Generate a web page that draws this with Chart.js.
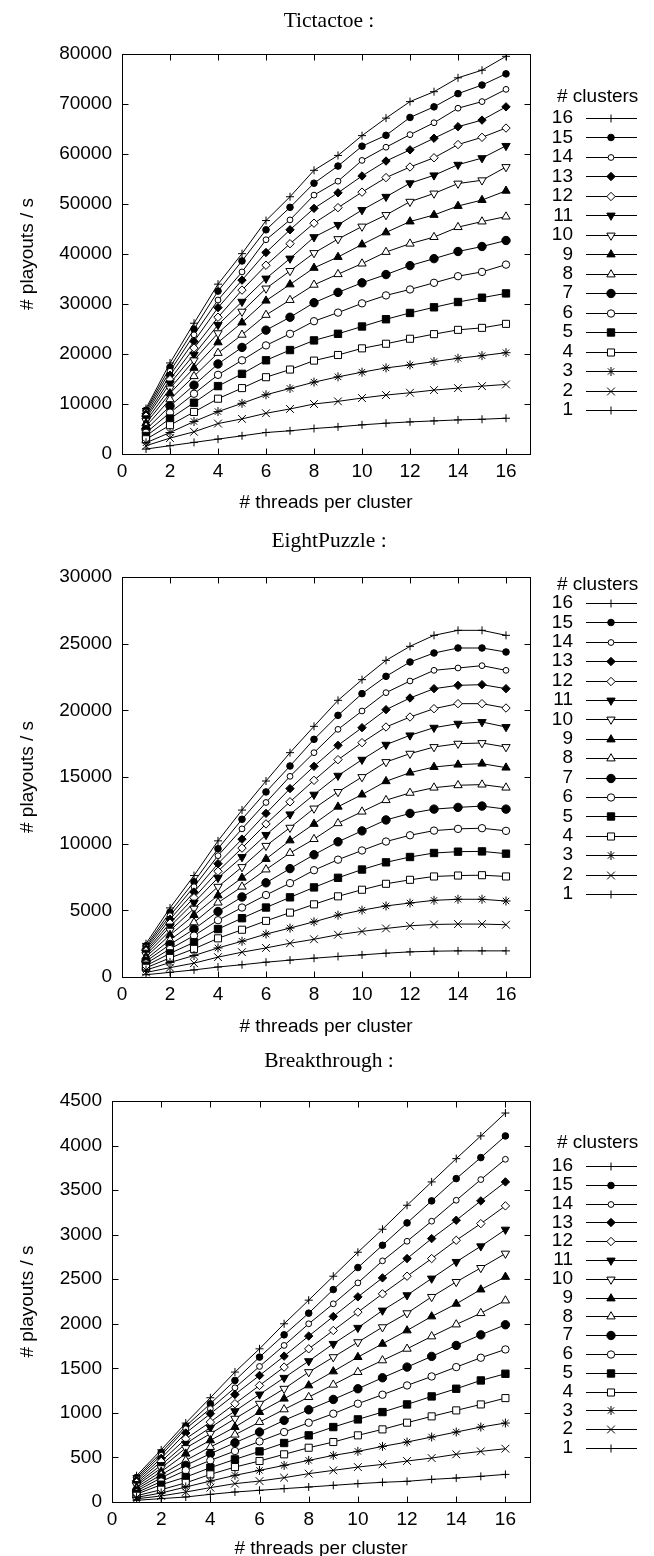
<!DOCTYPE html>
<html>
<head>
<meta charset="utf-8">
<script src="https://cdn.jsdelivr.net/npm/chart.js@4.4.1/dist/chart.umd.min.js"></script>
<style>
  html, body { margin: 0; padding: 0; background: #fff; }
  body { width: 654px; height: 1556px; position: relative; overflow: hidden; }
  canvas { position: absolute; left: 0; }
</style>
</head>
<body>
<canvas id="c1" width="654" height="520" style="top:0"></canvas>
<canvas id="c2" width="654" height="520" style="top:520px"></canvas>
<canvas id="c3" width="654" height="516" style="top:1040px"></canvas>
<script>
// x values (threads per cluster) and series labels (# clusters)
const threads  = [1, 2, 3, 4, 5, 6, 7, 8, 9, 10, 11, 12, 13, 14, 15, 16];
const clusters = ['1', '2', '3', '4', '5', '6', '7', '8', '9', '10', '11', '12', '13', '14', '15', '16'];
const xTicks   = [0, 2, 4, 6, 8, 10, 12, 14, 16];

const tictactoeYTicks    = [0, 10000, 20000, 30000, 40000, 50000, 60000, 70000, 80000];
const eightPuzzleYTicks  = [0, 5000, 10000, 15000, 20000, 25000, 30000];
const breakthroughYTicks = [0, 500, 1000, 1500, 2000, 2500, 3000, 3500, 4000, 4500];

// playouts / s, one row per cluster count (1..16), one value per thread count (1..16)
const tictactoe = [
  [990, 1660, 2320, 2980, 3640, 4300, 4640, 5100, 5430, 5830, 6160, 6420, 6620, 6820, 6950, 7150],
  [1650, 3180, 4440, 6090, 7020, 8150, 9010, 10000, 10530, 11190, 11790, 12250, 12780, 13180, 13580, 13910],
  [2240, 4300, 6490, 8480, 10130, 11850, 13110, 14370, 15430, 16360, 17220, 17810, 18480, 19140, 19670, 20260],
  [2950, 5760, 8410, 11060, 13180, 15360, 16890, 18680, 19800, 21130, 22050, 23050, 23970, 24830, 25230, 26030],
  [3600, 7090, 10260, 13580, 16030, 18740, 20790, 22720, 24040, 25500, 26950, 28210, 29340, 30400, 31260, 32120],
  [4250, 8280, 12050, 15830, 18740, 21720, 24040, 26560, 28280, 30130, 31720, 32910, 34240, 35560, 36420, 37880],
  [4900, 9600, 13770, 18010, 21320, 24770, 27350, 30260, 32320, 34240, 35890, 37680, 39070, 40500, 41500, 42700],
  [5550, 10930, 15560, 20200, 23840, 27810, 30790, 33840, 35960, 38080, 40400, 42060, 43380, 45370, 46490, 47480],
  [6150, 12120, 17220, 22320, 26290, 30660, 33910, 37220, 39400, 41900, 44310, 46490, 47810, 49600, 50790, 52640],
  [6650, 13110, 18740, 24170, 28480, 33110, 36620, 40200, 42990, 45500, 47810, 50460, 52110, 54090, 54750, 57400],
  [7150, 14110, 19870, 25830, 30460, 35100, 39100, 43380, 45830, 48800, 51450, 54160, 55740, 57860, 59180, 61630],
  [7550, 14900, 21190, 27350, 32780, 37750, 42060, 46160, 49270, 52370, 55280, 57400, 59250, 61890, 63340, 65190],
  [8000, 15760, 22520, 29270, 34770, 40300, 44840, 49130, 52240, 55610, 58590, 60830, 63150, 65460, 66780, 69430],
  [8400, 16560, 23840, 30790, 36420, 42850, 46820, 51780, 54560, 58720, 61360, 63870, 66250, 69160, 70480, 72930],
  [8750, 17350, 24970, 32580, 38610, 44840, 49330, 54160, 57590, 61560, 63740, 67310, 69430, 72070, 73790, 76030],
  [9100, 18210, 26160, 33970, 40070, 46690, 51450, 56740, 59710, 63675, 67180, 70480, 72460, 75240, 76760, 79540]
];

const eightPuzzle = [
  [170, 350, 530, 750, 920, 1110, 1265, 1410, 1540, 1660, 1785, 1885, 1935, 1960, 1960, 1960],
  [340, 700, 1040, 1490, 1860, 2180, 2530, 2830, 3170, 3420, 3640, 3840, 3940, 3970, 3970, 3920],
  [520, 1090, 1610, 2180, 2680, 3220, 3670, 4140, 4640, 5010, 5330, 5550, 5750, 5830, 5830, 5700],
  [690, 1430, 2110, 2900, 3545, 4210, 4830, 5450, 6050, 6545, 6990, 7290, 7540, 7610, 7635, 7540],
  [850, 1770, 2600, 3595, 4410, 5210, 5975, 6720, 7440, 8060, 8600, 9000, 9300, 9400, 9420, 9250],
  [1020, 2100, 3100, 4260, 5210, 6150, 7040, 8010, 8800, 9490, 10160, 10630, 10980, 11110, 11160, 10960],
  [1180, 2440, 3590, 4910, 6000, 7065, 8130, 9170, 10140, 10960, 11780, 12270, 12590, 12720, 12820, 12590],
  [1340, 2780, 4090, 5580, 6770, 8060, 9300, 10340, 11530, 12400, 13260, 13810, 14200, 14380, 14430, 14200],
  [1520, 3150, 4640, 6120, 7440, 8850, 10240, 11480, 12770, 13680, 14680, 15325, 15750, 15925, 16000, 15700],
  [1680, 3480, 5130, 6770, 8250, 9840, 11200, 12640, 13880, 15000, 16125, 16750, 17250, 17500, 17550, 17250],
  [1830, 3790, 5580, 7440, 9000, 10660, 12200, 13680, 15100, 16300, 17425, 18125, 18700, 19000, 19125, 18750],
  [1960, 4040, 5950, 7930, 9670, 11480, 13140, 14750, 16300, 17575, 18750, 19500, 20125, 20500, 20500, 20175],
  [2090, 4330, 6370, 8500, 10340, 12270, 14130, 15800, 17375, 18700, 20050, 20925, 21625, 21875, 21925, 21625],
  [2220, 4600, 6770, 9100, 11110, 13090, 15050, 16825, 18575, 19950, 21325, 22200, 23000, 23175, 23350, 23000],
  [2340, 4860, 7140, 9620, 11830, 13880, 15825, 17825, 19625, 21250, 22550, 23625, 24300, 24675, 24675, 24375],
  [2500, 5180, 7610, 10210, 12520, 14700, 16825, 18800, 20750, 22300, 23750, 24800, 25625, 26000, 26000, 25625]
];

const breakthrough = [
  [19, 38, 56, 86, 112, 131, 150, 168, 187, 206, 221, 232, 254, 269, 288, 310],
  [36, 68, 112, 161, 206, 235, 273, 318, 355, 392, 422, 460, 493, 535, 568, 598],
  [52, 101, 168, 235, 299, 355, 411, 467, 523, 568, 624, 673, 729, 785, 841, 886],
  [70, 138, 215, 310, 392, 460, 535, 609, 673, 748, 815, 890, 961, 1028, 1095, 1166],
  [88, 194, 280, 385, 478, 568, 662, 748, 841, 927, 1009, 1095, 1185, 1271, 1364, 1439],
  [105, 230, 355, 467, 572, 680, 785, 890, 991, 1103, 1204, 1308, 1409, 1514, 1619, 1712],
  [125, 270, 411, 542, 665, 785, 916, 1035, 1151, 1271, 1394, 1514, 1634, 1757, 1876, 1989],
  [145, 305, 467, 617, 755, 897, 1039, 1177, 1316, 1458, 1589, 1719, 1858, 1992, 2119, 2261],
  [165, 340, 542, 692, 841, 1009, 1159, 1308, 1465, 1626, 1775, 1925, 2082, 2224, 2384, 2526],
  [185, 380, 606, 766, 935, 1103, 1271, 1458, 1626, 1794, 1962, 2119, 2302, 2470, 2627, 2788],
  [203, 415, 654, 834, 1020, 1207, 1394, 1581, 1775, 1955, 2149, 2321, 2508, 2695, 2870, 3057],
  [220, 455, 710, 897, 1103, 1308, 1514, 1719, 1925, 2131, 2336, 2534, 2732, 2937, 3124, 3323],
  [240, 490, 774, 991, 1207, 1420, 1637, 1862, 2082, 2302, 2515, 2732, 2956, 3162, 3379, 3592],
  [258, 525, 822, 1047, 1282, 1521, 1757, 2000, 2224, 2459, 2706, 2926, 3151, 3386, 3618, 3846],
  [275, 555, 850, 1103, 1364, 1626, 1876, 2119, 2384, 2631, 2881, 3132, 3379, 3629, 3865, 4108],
  [295, 585, 886, 1170, 1458, 1719, 2000, 2265, 2534, 2803, 3061, 3330, 3592, 3853, 4108, 4365]
];

// gnuplot-like point types for clusters 1..16
const markerStyle  = ['cross', 'crossRot', 'star', 'rect', 'rect', 'circle', 'circle', 'triangle',
                      'triangle', 'triangle', 'triangle', 'rectRot', 'rectRot', 'circle', 'circle', 'cross'];
const markerFill   = [0, 0, 0, 0, 1, 0, 1, 0, 1, 0, 1, 0, 1, 0, 1, 0];
const markerRadius = [4, 5.5, 4.5, 5, 5.2, 3.7, 4.2, 4.8, 4.8, 4.8, 4.8, 4.2, 4.2, 2.9, 3.3, 4];
const markerRot    = [0, 0, 0, 0, 0, 0, 0, 0, 0, 180, 180, 0, 0, 0, 0, 0];

const SANS = 'Liberation Sans';

const framePlugin = {
  id: 'frame',
  beforeDatasetsDraw(chart) {
    const { ctx, chartArea: a, scales: { x, y } } = chart;
    ctx.save();
    ctx.strokeStyle = '#000';
    ctx.lineWidth = 1;
    const L = Math.round(a.left) + 0.5, R = Math.round(a.right) + 0.5;
    const T = Math.round(a.top) + 0.5, B = Math.round(a.bottom) + 0.5;
    ctx.strokeRect(L, T, R - L, B - T);
    ctx.beginPath();
    x.ticks.forEach(t => {
      const px = Math.round(x.getPixelForValue(t.value)) + 0.5;
      ctx.moveTo(px, B); ctx.lineTo(px, B - 6);
      ctx.moveTo(px, T); ctx.lineTo(px, T + 6);
    });
    y.ticks.forEach(t => {
      const py = Math.round(y.getPixelForValue(t.value)) + 0.5;
      ctx.moveTo(L, py); ctx.lineTo(L + 6, py);
      ctx.moveTo(R, py); ctx.lineTo(R - 6, py);
    });
    ctx.stroke();
    ctx.restore();
  }
};

// panel title and the "# clusters" key on the right
function annotatePlugin(title, geo) {
  return {
    id: 'annotate',
    afterDraw(chart) {
      const ctx = chart.ctx;
      ctx.save();
      ctx.fillStyle = '#000';
      ctx.textBaseline = 'middle';
      ctx.textAlign = 'center';
      ctx.font = '21.5px "Liberation Serif"';
      ctx.fillText(title, 329, 21);

      ctx.font = '19px "' + SANS + '"';
      ctx.textAlign = 'left';
      ctx.fillText('# clusters', 557, geo.legTitleY);
      const ds = chart.data.datasets;
      for (let i = ds.length - 1; i >= 0; i--) {
        const row = geo.legFirstY + (ds.length - 1 - i) * geo.legStep;
        ctx.fillStyle = '#000';
        ctx.textAlign = 'right';
        ctx.fillText(ds[i].label, 573, row);
        ctx.strokeStyle = '#000';
        ctx.lineWidth = 1;
        ctx.beginPath();
        ctx.moveTo(586, Math.round(row) + 0.5);
        ctx.lineTo(637, Math.round(row) + 0.5);
        ctx.stroke();
        ctx.fillStyle = ds[i].pointBackgroundColor;
        Chart.helpers.drawPoint(ctx, {
          pointStyle: ds[i].pointStyle, rotation: ds[i].pointRotation,
          radius: ds[i].pointRadius, borderWidth: 1
        }, 611, Math.round(row) + 0.5);
      }
      ctx.restore();
    }
  };
}

function makePanel(id, title, series, yTicks, geo) {
  const datasets = series.map((vals, i) => ({
    label: clusters[i],
    data: vals.map((v, j) => ({ x: threads[j], y: v })),
    borderColor: '#000',
    borderWidth: 1,
    tension: 0,
    fill: false,
    pointStyle: markerStyle[i],
    pointRadius: markerRadius[i],
    pointRotation: markerRot[i],
    pointBackgroundColor: markerFill[i] ? '#000' : '#fff',
    pointBorderColor: '#000',
    pointBorderWidth: 1
  }));
  const tickFont = { family: SANS, size: 19, lineHeight: 1 };
  return new Chart(document.getElementById(id), {
    type: 'line',
    data: { datasets },
    options: {
      responsive: false,
      animation: false,
      layout: { padding: { left: 0, right: 124, top: geo.top, bottom: 0 } },
      plugins: {
        legend: { display: false },
        tooltip: { enabled: false },
        title: { display: false }
      },
      scales: {
        x: {
          type: 'linear', min: 0, max: 17,
          grid: { display: false }, border: { display: false },
          afterBuildTicks: s => { s.ticks = xTicks.map(v => ({ value: v })); },
          afterFit: s => { s.height = geo.xH; },
          ticks: { color: '#000', font: tickFont, padding: 0, maxRotation: 0, autoSkip: false },
          title: {
            display: true, text: '# threads per cluster', color: '#000',
            font: { family: SANS, size: 19, lineHeight: 1 },
            padding: { top: 0, bottom: geo.xTitlePad }
          }
        },
        y: {
          type: 'linear', min: 0, max: yTicks[yTicks.length - 1],
          grid: { display: false }, border: { display: false },
          afterBuildTicks: s => { s.ticks = yTicks.map(v => ({ value: v })); },
          afterFit: s => { s.width = geo.left; },
          ticks: { color: '#000', font: tickFont, padding: 2, callback: v => String(v) },
          title: {
            display: true, text: '# playouts / s', color: '#000',
            font: { family: SANS, size: 19, lineHeight: 1 },
            padding: { top: 18.5, bottom: 0 }
          }
        }
      }
    },
    plugins: [framePlugin, annotatePlugin(title, geo)]
  });
}

makePanel('c1', 'Tictactoe :', tictactoe, tictactoeYTicks,
  { top: 54, xH: 66, xTitlePad: 7.5, left: 122, legTitleY: 97, legFirstY: 118, legStep: 19.47 });
makePanel('c2', 'EightPuzzle :', eightPuzzle, eightPuzzleYTicks,
  { top: 57, xH: 63, xTitlePad: 3.5, left: 122, legTitleY: 65, legFirstY: 83, legStep: 19.4 });
makePanel('c3', 'Breakthrough :', breakthrough, breakthroughYTicks,
  { top: 61, xH: 54, xTitlePad: -2, left: 112, legTitleY: 103, legFirstY: 126, legStep: 18.8 });
</script>
</body>
</html>
